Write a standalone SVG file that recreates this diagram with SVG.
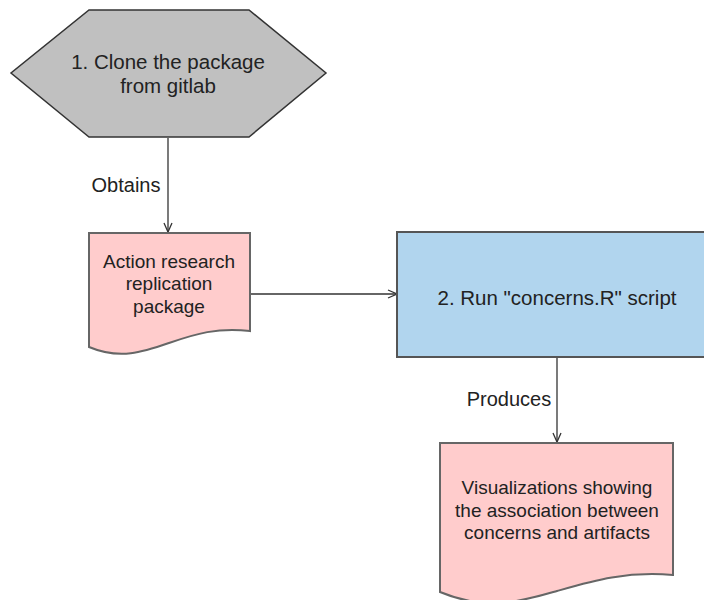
<svg xmlns="http://www.w3.org/2000/svg" width="704" height="600" viewBox="0 0 704 600">
<style>
text{font-family:"Liberation Sans",Arial,sans-serif;fill:#222;text-anchor:middle}
.n{font-size:20.5px}
.s{font-size:19px}
.l{font-size:20px}
.doc{fill:#ffcccc;stroke:#666;stroke-width:2}
.e{fill:none;stroke:#333;stroke-width:1.3}
</style>
<defs>
<marker id="ah" viewBox="0 0 10 10" refX="10" refY="5" markerWidth="10" markerHeight="10" markerUnits="userSpaceOnUse" orient="auto">
<path d="M1,1 L10,5 L1,9" fill="none" stroke="#333" stroke-width="1.3"/>
</marker>
</defs>
<rect width="704" height="600" fill="#ffffff"/>
<g id="connectors">
<line class="e" x1="168" y1="138" x2="168" y2="232" marker-end="url(#ah)"/>
<text class="l" x="126" y="192">Obtains</text>
<line class="e" x1="250" y1="294" x2="397" y2="294" marker-end="url(#ah)"/>
<line class="e" x1="557" y1="358" x2="557" y2="442" marker-end="url(#ah)"/>
<text class="l" x="509" y="406">Produces</text>
</g>
<g id="node1">
<polygon points="89,10 249,10 326,73 249,137 89,137 11,73" fill="#c0c0c0" stroke="#333" stroke-width="1.5"/>
<text class="n" x="168" y="69">1. Clone the package</text>
<text class="n" x="168" y="93">from gitlab</text>
</g>
<g id="doc1">
<path class="doc" d="M89,233 H250 V331 C218,327 195,334 169,343 C143,352 120,360 89,347 Z"/>
<text class="s" x="169" y="268">Action research</text>
<text class="s" x="169" y="290">replication</text>
<text class="s" x="169" y="313">package</text>
</g>
<g id="node2">
<rect x="397" y="232" width="320" height="125" fill="#b1d5ee" stroke="#555" stroke-width="2"/>
<text class="n" x="557" y="305">2. Run "concerns.R" script</text>
</g>
<g id="doc2">
<path class="doc" d="M440,443 H673 V575 C625,571 592,581 557,591 C522,601 488,612 440,592 Z"/>
<text class="s" x="557" y="494">Visualizations showing</text>
<text class="s" x="557" y="517">the association between</text>
<text class="s" x="557" y="539">concerns and artifacts</text>
</g>
</svg>
